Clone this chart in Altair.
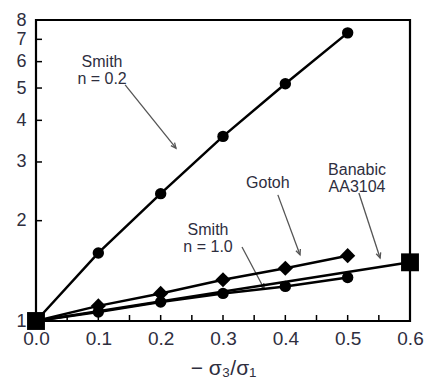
import math
import altair as alt
import pandas as pd

# ---- data ----
x_vals = [0.0, 0.1, 0.2, 0.3, 0.4, 0.5]
smith02 = [1.0, 1.60, 2.41, 3.58, 5.15, 7.32]
gotoh = [1.0, 1.11, 1.21, 1.33, 1.44, 1.57]
smith10 = [1.0, 1.064, 1.14, 1.21, 1.27, 1.35]
banabic_x = [0.0, 0.6]
banabic_y = [1.0, 1.50]

x_ticks = [0.0, 0.1, 0.2, 0.3, 0.4, 0.5, 0.6]
x_minor = [0.05, 0.1, 0.15, 0.2, 0.25, 0.3, 0.35, 0.4, 0.45, 0.5, 0.55]
y_ticks = [1, 2, 3, 4, 5, 6, 7, 8]
y_minor = [2, 3, 4, 5, 6, 7]

labels = ["Smith\nn = 0.2", "Gotoh", "Banabic\nAA3104", "Smith\nn = 1.0"]
label_x = [0.106, 0.372, 0.515, 0.276]
label_y = [5.98, 2.59, 2.84, 1.87]
arrow_x = [0.143, 0.388, 0.518, 0.3305]
arrow_y = [5.11, 2.39, 2.42, 1.667]
arrow_x2 = [0.2246, 0.4235, 0.552, 0.366]
arrow_y2 = [3.30, 1.58, 1.545, 1.25]

W, H = 374, 301
XMAX, YMAX = 0.6, 8.0
TXT = "#2e2e3e"


def px(x, y):
    return x / XMAX * W, H - math.log(y) / math.log(YMAX) * H


angles = []
for a, b, c, d in zip(arrow_x, arrow_y, arrow_x2, arrow_y2):
    x1, y1 = px(a, b)
    x2, y2 = px(c, d)
    ang = -math.degrees(math.atan2(x2 - x1, y2 - y1))
    angles.append(ang % 360)

series_df = pd.concat([
    pd.DataFrame({"x": x_vals, "y": smith02, "s": "smith02"}),
    pd.DataFrame({"x": x_vals, "y": gotoh, "s": "gotoh"}),
    pd.DataFrame({"x": x_vals, "y": smith10, "s": "smith10"}),
    pd.DataFrame({"x": banabic_x, "y": banabic_y, "s": "banabic"}),
])
circ_df = series_df[series_df.s.isin(["smith02", "smith10"]) & (series_df.x > 0)]
diam_df = series_df[(series_df.s == "gotoh") & (series_df.x > 0)]
sq_df = series_df[series_df.s == "banabic"]

ann_df = pd.DataFrame({"label": labels, "x": label_x, "y": label_y})
arr_df = pd.DataFrame({"x": arrow_x, "y": arrow_y, "x2": arrow_x2, "y2": arrow_y2, "angle": angles})
xt_df = pd.DataFrame({"x": x_minor})
yt_df = pd.DataFrame({"y": y_minor})

xs = alt.Scale(domain=[0, XMAX], nice=False, zero=False)
ys = alt.Scale(type="log", domain=[1, YMAX], nice=False)

X = alt.X("x:Q", scale=xs, axis=alt.Axis(
    values=x_ticks, format=".1f", ticks=False, domain=False, grid=False, labelFlush=False,
    labelFontSize=19, labelColor=TXT, labelFont="Liberation Sans", labelPadding=8,
    title="− σ₃/σ₁", titleFontSize=21, titleFontWeight="normal", titleColor=TXT,
    titleFont="Liberation Sans", titlePadding=9))
Y = alt.Y("y:Q", scale=ys, axis=alt.Axis(
    values=y_ticks, format="d", ticks=False, domain=False, grid=False, labelFlush=False,
    labelFontSize=18, labelColor=TXT, labelFont="Liberation Sans", labelPadding=10,
    labelOverlap=False, title=None))

base = alt.Chart(series_df)
lines = base.mark_line(color="black", strokeWidth=2.5).encode(x=X, y=Y, detail="s:N")
circles = alt.Chart(circ_df).mark_point(shape="circle", filled=True, color="black", size=130, opacity=1).encode(x="x:Q", y="y:Q")
diamonds = alt.Chart(diam_df).mark_point(shape="diamond", filled=True, color="black", size=230, opacity=1).encode(x="x:Q", y="y:Q")
squares = alt.Chart(sq_df).mark_point(shape="square", filled=True, color="black", size=320, opacity=1).encode(x="x:Q", y="y:Q")

arrows = alt.Chart(arr_df).mark_rule(color="#555555", strokeWidth=1.3).encode(x="x:Q", y="y:Q", x2="x2:Q", y2="y2:Q")
heads = alt.Chart(arr_df).mark_point(
    shape="M -0.45 -1 L 0 0 L 0.45 -1", filled=False, color="#555555", strokeWidth=1.3, size=110, opacity=1
).encode(x="x2:Q", y="y2:Q", angle=alt.Angle("angle:Q", scale=None))

texts = alt.Chart(ann_df).mark_text(
    fontSize=16, font="Liberation Sans", color=TXT, lineBreak="\n", align="center", baseline="middle", lineHeight=17
).encode(x="x:Q", y="y:Q", text="label:N")

xticks = alt.Chart(xt_df).mark_rule(color="black", strokeWidth=1.5).encode(
    x="x:Q", y=alt.value(H), y2=alt.value(H - 6))
yticks = alt.Chart(yt_df).mark_rule(color="black", strokeWidth=1.5).encode(
    y="y:Q", x=alt.value(0), x2=alt.value(6))

chart = alt.layer(xticks, yticks, arrows, heads, lines, circles, diamonds, squares, texts).properties(
    width=W, height=H, autosize="none", background="white",
    padding={"left": 36, "top": 20, "right": 14, "bottom": 66},
).configure_view(stroke="black", strokeWidth=2.2)

chart.save("out.html", embed_options={"renderer": "svg", "actions": False})
